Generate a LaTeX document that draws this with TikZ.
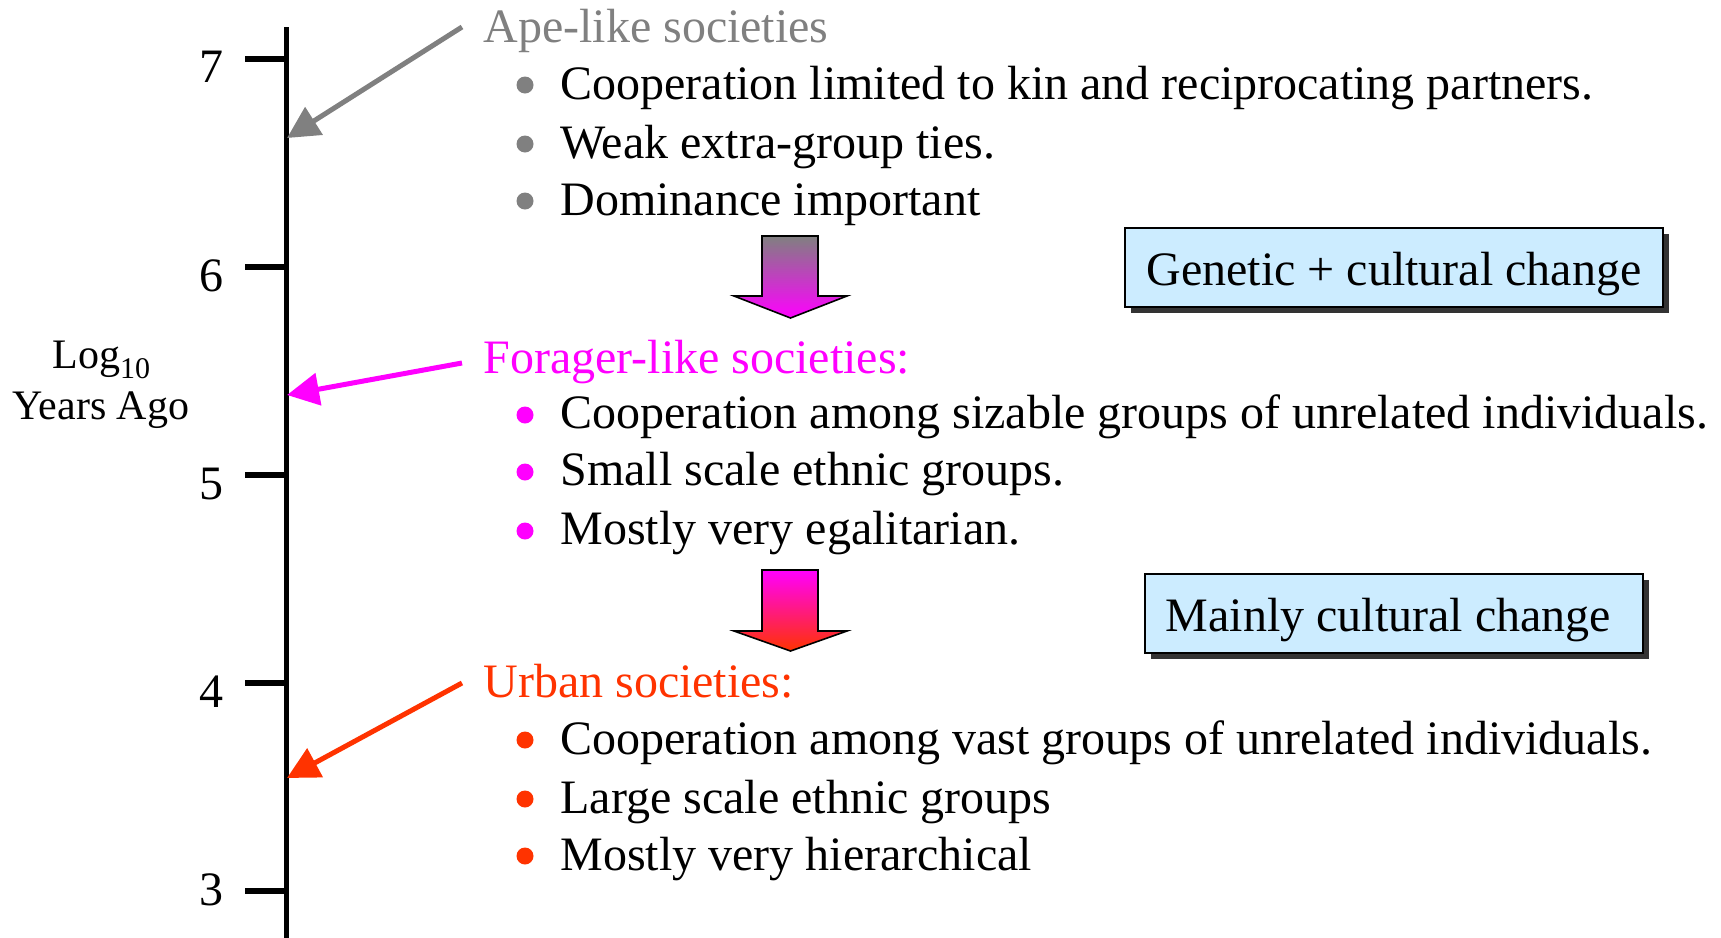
\documentclass[tikz,border=0pt]{standalone}
\usepackage{fontspec}
\setmainfont{Liberation Serif}
\usetikzlibrary{arrows.meta,shadows}
\definecolor{apegray}{HTML}{808080}
\definecolor{formag}{HTML}{FF00FF}
\definecolor{urbred}{HTML}{FF3300}
\definecolor{boxblue}{HTML}{CCECFF}
\definecolor{shadowgray}{HTML}{333333}
\begin{document}
\begin{tikzpicture}[x=0.5pt,y=-0.5pt,
  txt/.style={inner sep=0pt, anchor=base west, font=\fontsize{24}{28}\selectfont},
  num/.style={inner sep=0pt, anchor=base east, font=\fontsize{24}{28}\selectfont},
  axislbl/.style={inner sep=0pt, font=\fontsize{21}{24}\selectfont},
  axisline/.style={line width=2.5pt},
  axistick/.style={line width=2.8pt},
  pointer/.style={line width=2.5pt, -{Triangle[length=16pt,width=16pt]}},
  bulletdot/.style={circle, inner sep=0pt, minimum size=8.5pt},
  changebox/.style={draw=black, line width=1.2pt, fill=boxblue, minimum height=39.5pt,
     inner sep=0pt, font=\fontsize{24}{28}\selectfont,
     drop shadow={shadow xshift=3pt, shadow yshift=-3pt, fill=shadowgray, opacity=1}},
  downarrow/.style={draw=black, line width=0.8pt}
]
\useasboundingbox (0,0) rectangle (1721,938);

% axis
\coordinate (axtop) at (286,27);
\coordinate (axbot) at (286,940);
\draw[axisline] (axtop) -- (axbot);
\foreach \v/\y in {7/59,6/267,5/475,4/683,3/891}{
  \coordinate (t\v a) at (245,\y);
  \coordinate (t\v b) at (287,\y);
  \draw[axistick] (t\v a) -- (t\v b);
}
\node[num] (n7) at (224,82) {7};
\node[num] (n6) at (224,291) {6};
\node[num] (n5) at (224,499) {5};
\node[num] (n4) at (224,707) {4};
\node[num] (n3) at (224,905) {3};

\node[axislbl, anchor=base west] (logl) at (52,368) {Log\raisebox{-5pt}{\fontsize{15}{15}\selectfont 10}};
\node[axislbl, anchor=base] (yrs) at (101,419) {Years Ago};

% headers
\node[txt, text=apegray] (ape) at (483,42) {Ape-like societies};
\node[txt, text=formag] (forager) at (483,373) {Forager-like societies:};
\node[txt, text=urbred] (urban) at (483,697) {Urban societies:};

% pointers
\coordinate (apeS) at (462,27);    \coordinate (apeE) at (287,138);
\coordinate (forS) at (462,363);   \coordinate (forE) at (287,395);
\coordinate (urbS) at (462,683);   \coordinate (urbE) at (287,778);
\draw[pointer, apegray] (apeS) -- (apeE);
\draw[pointer, formag] (forS) -- (forE);
\draw[pointer, urbred] (urbS) -- (urbE);

% bullets
\node[bulletdot, fill=apegray] (d1) at (525,85) {};
\node[bulletdot, fill=apegray] (d2) at (525,144) {};
\node[bulletdot, fill=apegray] (d3) at (525,201) {};
\node[bulletdot, fill=formag] (d4) at (525,415) {};
\node[bulletdot, fill=formag] (d5) at (525,472) {};
\node[bulletdot, fill=formag] (d6) at (525,531) {};
\node[bulletdot, fill=urbred] (d7) at (525,740) {};
\node[bulletdot, fill=urbred] (d8) at (525,799) {};
\node[bulletdot, fill=urbred] (d9) at (525,856) {};

\node[txt] (b1) at (560,99) {Cooperation limited to kin and reciprocating partners.};
\node[txt] (b2) at (560,158) {Weak extra-group ties.};
\node[txt] (b3) at (560,215) {Dominance important};
\node[txt] (b4) at (560,428) {Cooperation among sizable groups of unrelated individuals.};
\node[txt] (b5) at (560,485) {Small scale ethnic groups.};
\node[txt] (b6) at (560,544) {Mostly very egalitarian.};
\node[txt] (b7) at (560,754) {Cooperation among vast groups of unrelated individuals.};
\node[txt] (b8) at (560,813) {Large scale ethnic groups};
\node[txt] (b9) at (560,870) {Mostly very hierarchical};

% down arrows
\shadedraw[downarrow, top color=apegray, bottom color=formag]
  (762,236) -- (818,236) -- (818,296) -- (847,296) -- (790.5,318) -- (734,296) -- (762,296) -- cycle;
\shadedraw[downarrow, top color=formag, bottom color=urbred]
  (762,570) -- (818,570) -- (818,631) -- (847,631) -- (790.5,651) -- (734,631) -- (762,631) -- cycle;

% boxes
\node[changebox, minimum width=269pt] (gc) at (1394,267.5) {\raisebox{-3.5pt}[\height][\depth]{Genetic + cultural change}};
\node[changebox, minimum width=249pt] (mc) at (1394,613.5) {\raisebox{-3.5pt}[\height][\depth]{Mainly cultural change}\kern5.5pt};
\end{tikzpicture}
\end{document}
